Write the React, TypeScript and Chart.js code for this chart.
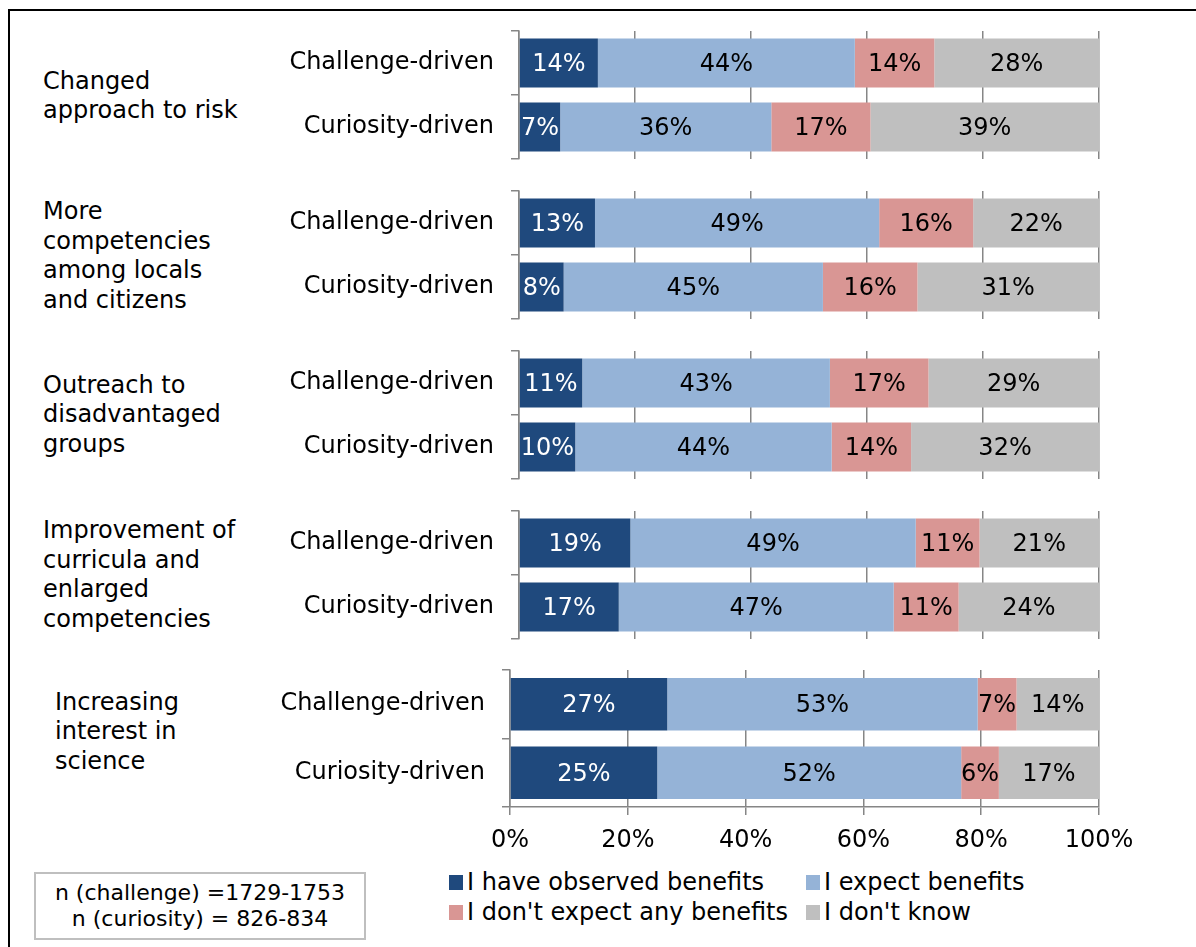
import React, { useEffect, useRef } from "react";
import { Chart, registerables } from "chart.js";
Chart.register(...registerables);

const FONT = '"DejaVu Sans", Verdana, sans-serif';
const FS = 24;

const groupLines: string[][] = [
  ["Changed", "approach to risk"],
  ["More", "competencies", "among locals", "and citizens"],
  ["Outreach to", "disadvantaged", "groups"],
  ["Improvement of", "curricula and", "enlarged", "competencies"],
  ["Increasing", "interest in", "science"],
];
const rowLabels = ["Challenge-driven", "Curiosity-driven"];
const seriesNames = [
  "I have observed benefits",
  "I expect benefits",
  "I don't expect any benefits",
  "I don't know",
];
const seriesColors = ["#1F497D", "#95B3D7", "#D99694", "#BFBFBF"];
const labelColors = ["#FFFFFF", "#000000", "#000000", "#000000"];

// [challenge, curiosity] per group
const observed = [[13.6, 7.1], [13.1, 7.7], [10.9, 9.7], [19.2, 17.2], [26.7, 25.0]];
const expected = [[44.3, 36.4], [49.0, 44.7], [42.7, 44.2], [49.2, 47.4], [52.7, 51.6]];
const notExpected = [[13.7, 17.1], [16.2, 16.3], [17.0, 13.7], [11.0, 11.2], [6.6, 6.4]];
const dontKnow = [[28.4, 39.4], [21.7, 31.3], [29.4, 32.4], [20.6, 24.2], [14.0, 17.0]];
const seriesValues = [observed, expected, notExpected, dontKnow];
const xTickValues = [0, 20, 40, 60, 80, 100];
const noteLines = ["n (challenge) =1729-1753", "n (curiosity) = 826-834"];

const GRID = "#868686";

const barLabels = {
  id: "barLabels",
  afterDatasetsDraw(chart: any) {
    const ctx = chart.ctx;
    ctx.save();
    ctx.font = `${FS}px ${FONT}`;
    ctx.textAlign = "center";
    ctx.textBaseline = "middle";
    chart.data.datasets.forEach((ds: any, di: number) => {
      const meta = chart.getDatasetMeta(di);
      meta.data.forEach((el: any, i: number) => {
        const v = ds.data[i];
        const p = el.getProps(["x", "base", "y"], true);
        ctx.fillStyle = labelColors[di];
        ctx.fillText(Math.round(v) + "%", (p.x + p.base) / 2, p.y + 2);
      });
    });
    ctx.restore();
  },
};

type PanelProps = {
  gi: number;
  left: number;
  top: number;
  width: number;
  height: number;
  yWidth: number;
  showX: boolean;
  padRight: number;
  catPct: number;
};

function Panel(props: PanelProps) {
  const ref = useRef<HTMLCanvasElement>(null);
  useEffect(() => {
    const { gi, yWidth, showX, padRight, catPct } = props;
    const chart = new Chart(ref.current as HTMLCanvasElement, {
      type: "bar",
      data: {
        labels: rowLabels,
        datasets: seriesNames.map((name, si) => ({
          label: name,
          data: seriesValues[si][gi],
          backgroundColor: seriesColors[si],
          borderWidth: 0,
          barPercentage: 1,
          categoryPercentage: catPct,
        })),
      },
      options: {
        indexAxis: "y",
        responsive: false,
        animation: false,
        events: [],
        layout: { padding: { top: 4, bottom: showX ? 0 : 4, left: 0, right: padRight } },
        plugins: { legend: { display: false }, tooltip: { enabled: false } },
        scales: {
          x: {
            stacked: true,
            min: 0,
            max: 100,
            afterBuildTicks: (s: any) => {
              s.ticks = xTickValues.map((v) => ({ value: v }));
            },
            afterFit: (s: any) => {
              s.height = showX ? 45 : 0;
              s.paddingLeft = 0;
            },
            grid: {
              color: GRID,
              lineWidth: 1.5,
              drawTicks: showX,
              tickLength: 8,
            },
            border: { display: showX, color: GRID, width: 1.5 },
            ticks: {
              display: showX,
              padding: 11,
              color: "#000",
              font: { family: FONT, size: FS },
              callback: (v: any) => v + "%",
            },
          },
          y: {
            stacked: true,
            afterFit: (s: any) => {
              s.width = yWidth;
              s.paddingTop = 0;
              s.paddingBottom = 0;
            },
            grid: {
              drawOnChartArea: false,
              drawTicks: true,
              tickLength: 8,
              offset: true,
              color: GRID,
              lineWidth: 1.5,
            },
            border: { display: true, color: GRID, width: 1.5 },
            ticks: {
              padding: 17,
              color: "#000",
              font: { family: FONT, size: FS },
            },
          },
        },
      },
      plugins: [barLabels],
    } as any);
    return () => chart.destroy();
  }, []);
  return (
    <canvas
      ref={ref}
      width={props.width}
      height={props.height}
      style={{
        position: "absolute",
        left: props.left,
        top: props.top,
        width: props.width,
        height: props.height,
        display: "block",
      }}
    />
  );
}

function GroupLabel({ lines, left, centerY }: { lines: string[]; left: number; centerY: number }) {
  const lh = 29.5;
  return (
    <div
      style={{
        position: "absolute",
        left,
        top: centerY - (lines.length * lh) / 2 + 1,
        fontFamily: FONT,
        fontSize: FS,
        lineHeight: lh + "px",
        color: "#000",
        whiteSpace: "nowrap",
      }}
    >
      {lines.map((l, i) => (
        <div key={i}>{l}</div>
      ))}
    </div>
  );
}

export default function App() {
  const panels = [0, 1, 2, 3].map((i) => ({
    gi: i,
    left: 260,
    top: 27 + 160 * i,
    width: 843,
    height: 136,
    yWidth: 259,
    showX: false,
    padRight: 4,
    catPct: 0.766,
  }));
  panels.push({
    gi: 4,
    left: 251,
    top: 666,
    width: 908,
    height: 186,
    yWidth: 259,
    showX: true,
    padRight: 60,
    catPct: 0.765,
  });
  const labelPos = [
    { left: 43, cy: 95 },
    { left: 43, cy: 255 },
    { left: 43, cy: 414 },
    { left: 43, cy: 574 },
    { left: 55, cy: 731 },
  ];
  const legendPos = [
    { x: 449, y: 882 },
    { x: 806, y: 882 },
    { x: 449, y: 912 },
    { x: 806, y: 912 },
  ];
  return (
    <div
      style={{
        position: "absolute",
        left: 0,
        top: 0,
        width: 1196,
        height: 947,
        overflow: "hidden",
        background: "#fff",
      }}
    >
      <div
        style={{
          position: "absolute",
          left: 8,
          top: 9,
          width: 1400,
          height: 1200,
          border: "2px solid #000",
        }}
      />
      {panels.map((p) => (
        <Panel key={p.gi} {...p} />
      ))}
      {groupLines.map((lines, i) => (
        <GroupLabel key={i} lines={lines} left={labelPos[i].left} centerY={labelPos[i].cy} />
      ))}
      {seriesNames.map((name, i) => (
        <div
          key={name}
          style={{
            position: "absolute",
            left: legendPos[i].x,
            top: legendPos[i].y - 15,
            height: 30,
            display: "flex",
            alignItems: "center",
            fontFamily: FONT,
            fontSize: FS,
            whiteSpace: "nowrap",
            color: "#000",
          }}
        >
          <span
            style={{
              display: "inline-block",
              width: 14,
              height: 15,
              background: seriesColors[i],
              marginRight: 4,
            }}
          />
          {name}
        </div>
      ))}
      <div
        style={{
          position: "absolute",
          left: 34,
          top: 872,
          width: 332,
          height: 68,
          boxSizing: "border-box",
          border: "2px solid #BFBFBF",
          display: "flex",
          flexDirection: "column",
          justifyContent: "center",
          alignItems: "center",
          fontFamily: FONT,
          fontSize: 22,
          lineHeight: "26px",
          color: "#000",
        }}
      >
        {noteLines.map((l) => (
          <div key={l}>{l}</div>
        ))}
      </div>
    </div>
  );
}
